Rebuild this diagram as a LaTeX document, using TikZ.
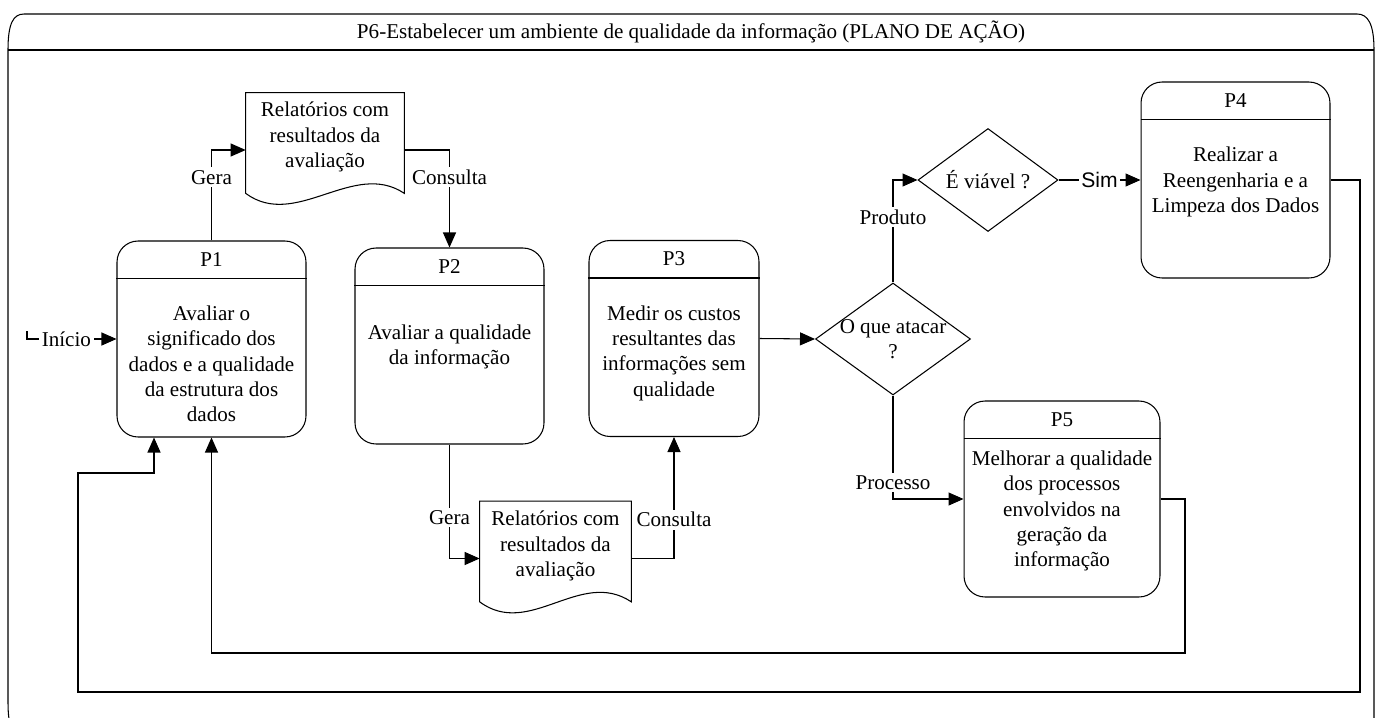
\documentclass[tikz,border=0pt]{standalone}
\usepackage{fontspec}
\setmainfont{Liberation Serif}
\newfontfamily\arialfont{Liberation Sans}
\usetikzlibrary{arrows.meta,calc,positioning,shapes.geometric}

\tikzset{
  base/.style={font=\fontsize{12}{14.4}\selectfont},
  procbox/.style={draw,rounded corners=0.42cm,line width=0.6pt,
    minimum width=3.78cm,minimum height=3.92cm},
  docnode/.style={minimum height=2.28cm,inner sep=0pt},
  decision/.style={draw,diamond,line width=0.6pt,inner sep=0pt},
  txt/.style={base,align=center,inner sep=0pt},
  lbl/.style={base,fill=white,inner sep=1.5pt},
  flow/.style={line width=0.6pt,-{Triangle[length=0.3cm,width=0.26cm]}},
  wire/.style={line width=0.6pt}
}

\newcommand{\docoutline}[1]{\draw[wire] (#1.north west) -- (#1.north east)
  -- ([yshift=0.28cm]#1.south east) .. controls +(-51,-34) and +(50,37)
  .. ([yshift=0.28cm]#1.south west) -- cycle;}

\begin{document}
\begin{tikzpicture}[x=0.02cm,y=-0.02cm]
  \useasboundingbox (0,0) rectangle (1376,717);
  \clip (0,0) rectangle (1376,717);
  % moldura
  \draw[wire] (8,702) -- (8,50) .. controls (8,24) and (13,14) .. (24,14)
    -- (1357,14) .. controls (1368,14) and (1374,24) .. (1374,50)
    -- (1374,738) -- (24,738) .. controls (13,738) and (8,728) .. cycle;
  \draw[wire] (8,50) -- (1374,50);
  \node[txt] (title) at (691,32)
    {P6-Estabelecer um ambiente de qualidade da informação (PLANO DE AÇÃO)};

  % processos
  \node[procbox] (P1) at (211.5,339) {};
  \node[procbox] (P2) at (449.5,346) {};
  \node[procbox,minimum width=3.4cm] (P3) at (674,338.5) {};
  \node[procbox] (P4) at (1235.5,180) {};
  \node[procbox,minimum width=3.92cm] (P5) at (1062,499) {};
  \foreach \p in {P1,P2,P3,P4,P5}{
    \draw[wire] ([yshift=-0.76cm]\p.north west) -- ([yshift=-0.76cm]\p.north east);
    \node[txt] (\p h) at ([yshift=-0.38cm]\p.north) {\p};
  }
  \node[txt] (P1t) at (211.5,364)
    {Avaliar o\\significado dos\\dados e a qualidade\\da estrutura dos\\dados};
  \node[txt] (P2t) at (449.5,347) {Avaliar a qualidade\\da informação};
  \node[txt] (P3t) at (674,353)
    {Medir os custos\\resultantes das\\informações sem\\qualidade};
  \node[txt] (P4t) at (1235.5,182)
    {Realizar a\\Reengenharia e a\\Limpeza dos Dados};
  \node[txt] (P5t) at (1062,511)
    {Melhorar a qualidade\\dos processos\\envolvidos na\\geração da\\informação};

  % relatorios
  \node[docnode,minimum width=3.16cm] (R1) at (325,150) {};
  \node[docnode,minimum width=3.02cm] (R2) at (555.5,558.5) {};
  \docoutline{R1}
  \docoutline{R2}
  \node[txt] (R1t) at (325,137) {Relatórios com\\resultados da\\avaliação};
  \node[txt] (R2t) at (555.5,546) {Relatórios com\\resultados da\\avaliação};

  % decisoes
  \node[decision,minimum width=3.1cm,minimum height=2.24cm] (D1) at (893,339) {};
  \node[txt] (D1t) at (D1.center) {O que atacar\\?};
  \node[decision,minimum width=2.8cm,minimum height=2.06cm] (D2) at (988,180) {};
  \node[txt] (D2t) at (D2.center) {É viável ?};

  % ligacoes
  \coordinate (ini) at (27,331);
  \draw[flow] (ini) |- (P1.west) node[lbl,pos=0.72] (inicio) {Início};
  \draw[flow] (P1.north) |- (R1.west) node[lbl,pos=0.35] (gera1) {Gera};
  \draw[flow] (R1.east) -| (P2.north) node[lbl,pos=0.64] (cons1) {Consulta};
  \draw[flow] (P2.south) |- (R2.west) node[lbl,pos=0.32] (gera2) {Gera};
  \draw[flow] (R2.east) -| (P3.south) node[lbl,pos=0.66] (cons2) {Consulta};
  \draw[flow] (P3.east) -- (D1.west);
  \draw[flow] (D1.north) |- (D2.west) node[lbl,pos=0.32] (prod) {Produto};
  \draw[flow] (D2.east) -- (P4.west)
    node[lbl,midway,font=\arialfont\fontsize{12}{14.4}\selectfont] (sim) {Sim};
  \draw[flow] (D1.south) |- (P5.west) node[lbl,pos=0.42] (proc) {Processo};

  % retornos
  \coordinate (retA) at (1360,692);
  \coordinate (retB) at (78,473);
  \coordinate (retC) at (1185,653);
  \coordinate (P1in) at ([xshift=-1.15cm]P1.south);
  \draw[flow] (P4.east) -| (retA) -| (retB) -| (P1in);
  \draw[flow] (P5.east) -| (retC) -| (P1.south);
\end{tikzpicture}
\end{document}
